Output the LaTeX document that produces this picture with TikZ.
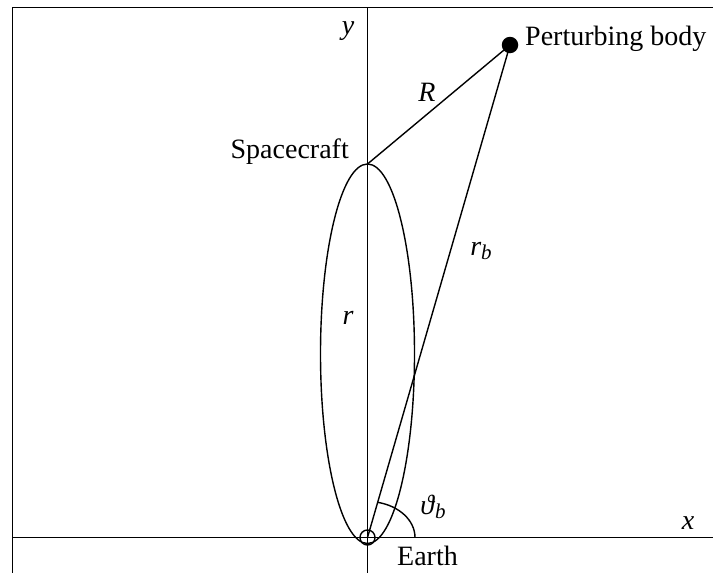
\documentclass[tikz,border=0pt]{standalone}
\usepackage{fontspec}
\setmainfont{Liberation Serif}
\begin{document}
\begin{tikzpicture}[x=1pt,y=-1pt,
  lbl/.style={inner sep=0pt,font=\fontsize{28}{33}\selectfont},
  axisline/.style={line width=1.9pt},
  thinline/.style={line width=1.4pt}]
\useasboundingbox (0,0) rectangle (713,573);
% frame and axes
\draw[axisline] (12.5,573) -- (12.5,7.5) -- (713,7.5);
\coordinate (xl) at (12.5,537.5);
\coordinate (xr) at (713,537.5);
\coordinate (yt) at (367.5,7.5);
\coordinate (yb) at (367.5,573);
\draw[axisline] (xl) -- (xr);
\draw[thinline] (yt) -- (yb);
% orbit
\draw[thinline] (367.5,353.75) ellipse[x radius=47, y radius=189.75];
% points
\coordinate (E) at (367.5,537.5);
\coordinate (S) at (367.5,164);
\node[circle,fill=black,minimum size=16.5pt,inner sep=0pt] (B) at (510,45) {};
\draw[thinline] (E) circle[radius=7.5];
% connectors
\draw[thinline] (S) -- (B.center);
\draw[thinline] (E) -- (B.center);
% angle arc
\draw[thinline] (E) ++(47.5,0) arc[start angle=0, end angle=-78, x radius=47.5, y radius=36];
% labels
\node[lbl,anchor=base west] (pb) at (525,45) {Perturbing body};
\node[lbl,anchor=base east] (sc) at (349,158) {Spacecraft};
\node[lbl,anchor=base west] (ea) at (397,565) {Earth};
\node[lbl] (ylab) at (348,31) {\textit{y}};
\node[lbl] (xlab) at (688,523) {\textit{x}};
\node[lbl] (Rlab) at (427,92) {\textit{R}};
\node[lbl] (rlab) at (348,318) {\textit{r}};
\node[lbl] (rblab) at (481,251) {\textit{r}\raisebox{-0.35ex}{\fontsize{21}{25}\selectfont\textit{b}}};
\node[lbl] (thlab) at (433,507) {\textit{ϑ}\raisebox{-0.35ex}{\fontsize{21}{25}\selectfont\textit{b}}};
\end{tikzpicture}
\end{document}
